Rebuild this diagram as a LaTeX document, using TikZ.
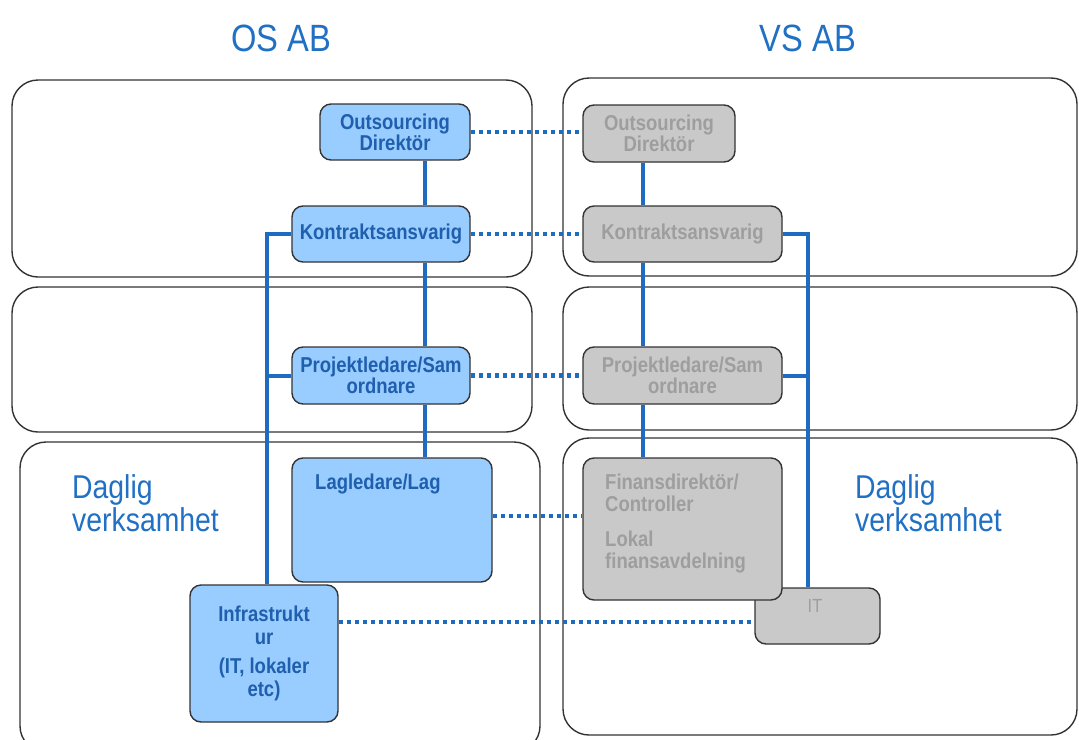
\documentclass[tikz,border=0pt]{standalone}
\usepackage{fontspec}
\setmainfont[FakeStretch=0.86]{Liberation Sans}
\definecolor{bfill}{HTML}{99CCFF}
\definecolor{btext}{HTML}{1F5FAE}
\definecolor{ttext}{HTML}{2070C4}
\definecolor{lblue}{HTML}{1E6BBF}
\definecolor{gfill}{HTML}{C9C9C9}
\definecolor{gtext}{HTML}{9E9E9E}
\definecolor{frame}{HTML}{333333}
\tikzset{
  outer/.style={draw=frame, line width=1.4pt, rounded corners=26pt},
  bbox/.style={draw=frame, line width=1.4pt, fill=bfill, rounded corners=11pt, inner sep=0pt,
    text=btext, font=\fontsize{21.5}{19.5}\selectfont\bfseries, align=center},
  gbox/.style={draw=frame, line width=1.4pt, fill=gfill, rounded corners=11pt, inner sep=0pt,
    text=gtext, font=\fontsize{21.5}{19.5}\selectfont\bfseries, align=center},
  link/.style={draw=lblue, line width=4pt},
  dotlink/.style={draw=lblue, line width=4.2pt, dash pattern=on 4.2pt off 3.8pt},
  title/.style={text=ttext, font=\fontsize{38}{40}\selectfont},
  daglig/.style={text=ttext, font=\fontsize{33}{33}\selectfont, align=left, inner sep=0pt},
}
\begin{document}
\begin{tikzpicture}[x=1pt,y=-1pt]
\useasboundingbox (0,0) rectangle (1079,739);
\clip (0,0) rectangle (1079,739);
\fill[white] (0,0) rectangle (1079,739);
% outer frames
\draw[outer] (12,80) rectangle (532,277);
\draw[outer] (12,287) rectangle (532,432);
\draw[outer] (20,442) rectangle (540,752);
\draw[outer] (563,78) rectangle (1077,276);
\draw[outer] (563,287) rectangle (1077,430);
\draw[outer] (563,438) rectangle (1077,735);
% titles
\node[title] (tos) at (281,38) {OS AB};
\node[title] (tvs) at (808,38) {VS AB};
\node[daglig, anchor=north west] (dl) at (72,474) {Daglig\\verksamhet};
\node[daglig, anchor=north west] (dr) at (855,474) {Daglig\\verksamhet};
% helper coordinates
\coordinate (xl) at (425,0);
\coordinate (xr) at (643,0);
\coordinate (xll) at (267,0);
\coordinate (xrr) at (808,0);
\coordinate (yl) at (0,516);
\coordinate (yi) at (0,622);
% blue nodes
\node[bbox, minimum width=150pt, minimum height=56pt] (od) at (395,132) {Outsourcing\\Direktör};
\node[bbox, minimum width=178pt, minimum height=56pt] (k) at (381,234) {Kontraktsansvarig};
\node[bbox, minimum width=178pt, minimum height=57pt] (p) at (381,375.5) {Projektledare/Sam\\ordnare};
\node[bbox, minimum width=200pt, minimum height=124pt] (lag) at (392,520) {};
\node[text=btext, font=\fontsize{21.5}{19.5}\selectfont\bfseries, anchor=north west, inner sep=0pt] (lagt) at (315,474) {Lagledare/Lag};
\node[bbox, minimum width=148pt, minimum height=137pt, font=\fontsize{21.5}{23}\selectfont\bfseries] (inf) at (264,653.5) {Infrastrukt\\ur\\[6pt](IT, lokaler\\etc)};
% gray nodes
\node[gbox, minimum width=152pt, minimum height=57pt] (god) at (659,133.5) {Outsourcing\\Direktör};
\node[gbox, minimum width=199pt, minimum height=56pt] (gk) at (682.5,234) {Kontraktsansvarig};
\node[gbox, minimum width=199pt, minimum height=57pt] (gp) at (682.5,375.5) {Projektledare/Sam\\ordnare};
\node[gbox, minimum width=125pt, minimum height=56pt] (it) at (817.5,616) {};
\node[text=gtext, font=\fontsize{19}{21}\selectfont, inner sep=0pt] (itt) at (815,606) {IT};
\node[gbox, minimum width=199pt, minimum height=142pt] (fin) at (682.5,529) {};
\node[text=gtext, font=\fontsize{21.5}{22}\selectfont\bfseries, anchor=north west, align=left, inner sep=0pt] (fint) at (605,474) {Finansdirektör/\\Controller\\[13pt]Lokal\\finansavdelning};
% blue connectors (left)
\draw[link] (od.south -| xl) -- (k.north -| xl);
\draw[link] (k.south -| xl) -- (p.north -| xl);
\draw[link] (p.south -| xl) -- (lag.north -| xl);
\draw[link] (k.west) -- (k.west -| xll) -- (inf.north -| xll);
\draw[link] (p.west) -- (p.west -| xll);
% blue connectors (right)
\draw[link] (god.south -| xr) -- (gk.north -| xr);
\draw[link] (gk.south -| xr) -- (gp.north -| xr);
\draw[link] (gp.south -| xr) -- (fin.north -| xr);
\draw[link] (gk.east) -- (gk.east -| xrr) -- (it.north -| xrr);
\draw[link] (gp.east) -- (gp.east -| xrr);
% dotted connectors
\draw[dotlink] (od.east) -- (od.east -| god.west);
\draw[dotlink] (k.east) -- (gk.west);
\draw[dotlink] (p.east) -- (gp.west);
\draw[dotlink] (lag.east |- yl) -- (fin.west |- yl);
\draw[dotlink] (inf.east |- yi) -- (it.west |- yi);
\end{tikzpicture}
\end{document}
